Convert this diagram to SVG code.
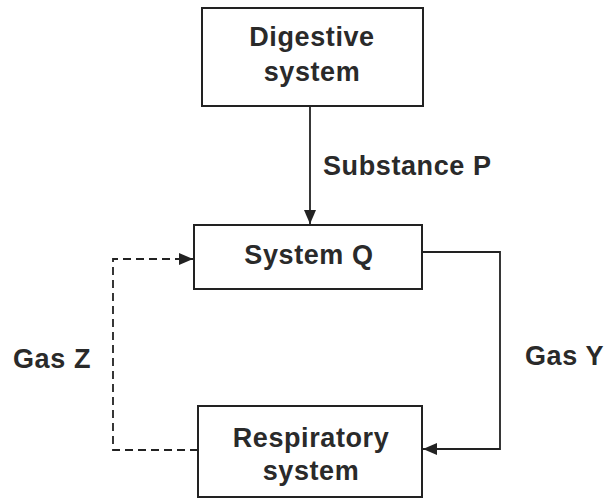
<svg xmlns="http://www.w3.org/2000/svg" width="609" height="499" viewBox="0 0 609 499">
<style>
.box{fill:#fff;stroke:#222;stroke-width:2}
.t{font-family:"Liberation Sans",Arial,sans-serif;font-weight:bold;font-size:27px;letter-spacing:0.6px;fill:#2a2a2a}
.c{text-anchor:middle}
.ln{fill:none;stroke:#222;stroke-width:1.8}
.dash{stroke-dasharray:8,5}
</style>
<defs>
<marker id="ah" viewBox="0 0 14 12" refX="14" refY="6" markerWidth="14" markerHeight="12" markerUnits="userSpaceOnUse" orient="auto">
<path d="M0,0 L14,6 L0,12 Z" fill="#222"/>
</marker>
</defs>
<rect width="609" height="499" fill="#fff"/>
<g id="connectors">
<path class="ln" d="M310,106 V224" marker-end="url(#ah)"/>
<path class="ln dash" d="M198,450 H113 V259 H193" marker-end="url(#ah)"/>
<path class="ln" d="M422,252 H500 V449 H423" marker-end="url(#ah)"/>
</g>
<g id="digestive">
<rect class="box" x="202" y="8" width="221" height="98"/>
<text class="t c" x="312" y="46">Digestive</text>
<text class="t c" x="312" y="81">system</text>
</g>
<g id="systemQ">
<rect class="box" x="194" y="225" width="228" height="64"/>
<text class="t c" x="309" y="264">System Q</text>
</g>
<g id="respiratory">
<rect class="box" x="198" y="406" width="224" height="91"/>
<text class="t c" x="311" y="447">Respiratory</text>
<text class="t c" x="311" y="480">system</text>
</g>
<g id="labels">
<text class="t" x="323" y="175">Substance P</text>
<text class="t" x="13" y="368">Gas Z</text>
<text class="t" x="525" y="365">Gas Y</text>
</g>
</svg>
